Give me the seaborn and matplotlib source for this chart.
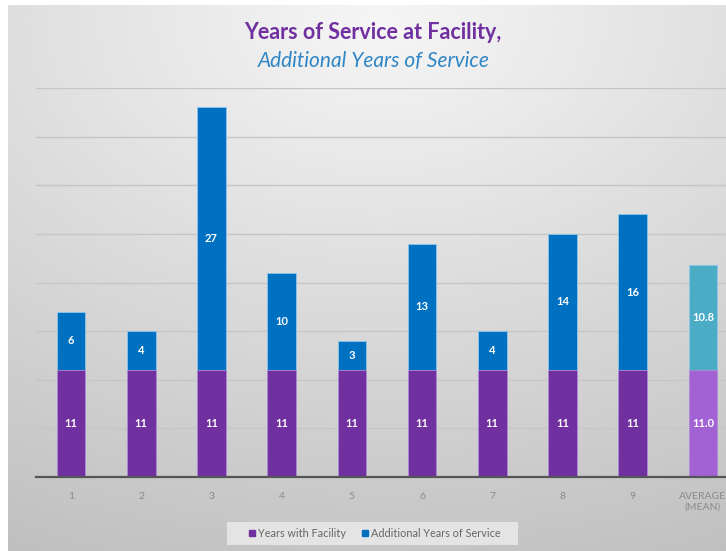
import numpy as np
import pandas as pd
import matplotlib
matplotlib.use("Agg")
import matplotlib.pyplot as plt
from matplotlib.lines import Line2D
from matplotlib.patches import Rectangle
import seaborn as sns

# Data
categories = ["1", "2", "3", "4", "5", "6", "7", "8", "9", "AVERAGE\n(MEAN)"]
years_with_facility = [11, 11, 11, 11, 11, 11, 11, 11, 11, 11.0]
additional_years = [6, 4, 27, 10, 3, 13, 4, 14, 16, 10.8]
facility_labels = ["11"] * 9 + ["11.0"]
additional_labels = ["6", "4", "27", "10", "3", "13", "4", "14", "16", "10.8"]

PURPLE = "#7030A0"
BLUE = "#0070C0"
AVG_PURPLE = "#A262D4"
AVG_BLUE = "#4BACC6"

sns.set_theme(style="white")
plt.rcParams["font.family"] = ["Lato", "DejaVu Sans"]

df = pd.DataFrame({
    "category": categories,
    "facility": years_with_facility,
    "additional": additional_years,
})
df["total"] = df["facility"] + df["additional"]

W, H = 726, 551
fig = plt.figure(figsize=(W / 100, H / 100), dpi=100)

# Soft gray gradient backdrop, lighter towards the top centre
bg_ax = fig.add_axes([0, 0, 1, 1], zorder=-10)
yy, xx = np.mgrid[0:H, 0:W]
dx = (xx - 380) / W
dy = (yy - 20) / H
r = np.sqrt((dx * 0.9) ** 2 + dy ** 2)
val = 0.965 - 0.20 * np.clip(r, 0, 1.2)
img = np.dstack([val, val, val])
# white frame on top and left
img[:5, :, :] = 1.0
img[:, :8, :] = 1.0
bg_ax.imshow(img, aspect="auto", extent=[0, 1, 0, 1], origin="upper")
bg_ax.set_axis_off()

ax = fig.add_axes([36 / W, 74 / H, 702 / W, 389 / H])
ax.patch.set_alpha(0)

blue_pal = {c: (AVG_BLUE if i == len(categories) - 1 else BLUE) for i, c in enumerate(categories)}
purple_pal = {c: (AVG_PURPLE if i == len(categories) - 1 else PURPLE) for i, c in enumerate(categories)}

# stacked look: full-height blue bars, purple facility bars drawn over them
sns.barplot(data=df, x="category", y="total", hue="category", palette=blue_pal,
            width=0.41, legend=False, ax=ax, saturation=1, zorder=3,
            edgecolor="#8fc6ee", linewidth=0.6)
sns.barplot(data=df, x="category", y="facility", hue="category", palette=purple_pal,
            width=0.41, legend=False, ax=ax, saturation=1, zorder=4,
            edgecolor="#b58ad6", linewidth=0.6)

lab_kw = dict(ha="center", va="center", color="white", fontsize=8,
              fontweight="bold", zorder=6)
for i in range(len(categories)):
    f = years_with_facility[i]
    a = additional_years[i]
    ax.text(i, f / 2, facility_labels[i], **lab_kw)
    ax.text(i, f + a / 2, additional_labels[i], **lab_kw)

ax.set_ylim(0, 40)
ax.set_xlim(-0.5, len(categories) - 0.5)
ax.set_yticks(np.arange(5, 41, 5))
ax.yaxis.grid(True, color="#c6c6c6", linewidth=1.0, zorder=0)
ax.set_axisbelow(True)
ax.tick_params(axis="y", left=False, labelleft=False)
ax.tick_params(axis="x", bottom=False, labelsize=7.5, labelcolor="#8a8a8a", pad=5)
for sp in ["top", "right", "left"]:
    ax.spines[sp].set_visible(False)
ax.spines["bottom"].set_color("#555555")
ax.spines["bottom"].set_linewidth(1.6)
ax.spines["bottom"].set_zorder(7)
ax.set_xlabel("")
ax.set_ylabel("")

# Titles
fig.text(0.513, 1 - 39 / H, "Years of Service at Facility,", ha="center", va="baseline",
         color=PURPLE, fontsize=15.5, fontweight="bold")
fig.text(0.515, 1 - 67 / H, "Additional Years of Service", ha="center", va="baseline",
         color="#2F86C6", fontsize=15, fontstyle="italic")

# Legend panel and entries
fig.patches.append(Rectangle((227 / W, 1 - 545 / H), 291 / W, 23 / H,
                             transform=fig.transFigure, facecolor="#e4e4e4",
                             edgecolor="none", zorder=1))
handles = [
    Line2D([], [], marker="s", linestyle="", markersize=5, color=PURPLE,
           label="Years with Facility"),
    Line2D([], [], marker="s", linestyle="", markersize=5, color=BLUE,
           label="Additional Years of Service"),
]
leg = fig.legend(handles=handles, loc="center", bbox_to_anchor=(374 / W, 1 - 533.5 / H),
                 ncol=2, frameon=False, fontsize=7.8, handletextpad=0.1,
                 columnspacing=1.4, borderpad=0.3, handlelength=0.8)
leg.set_zorder(2)
for t in leg.get_texts():
    t.set_color("#666666")

fig.savefig("out.png", dpi=100)
